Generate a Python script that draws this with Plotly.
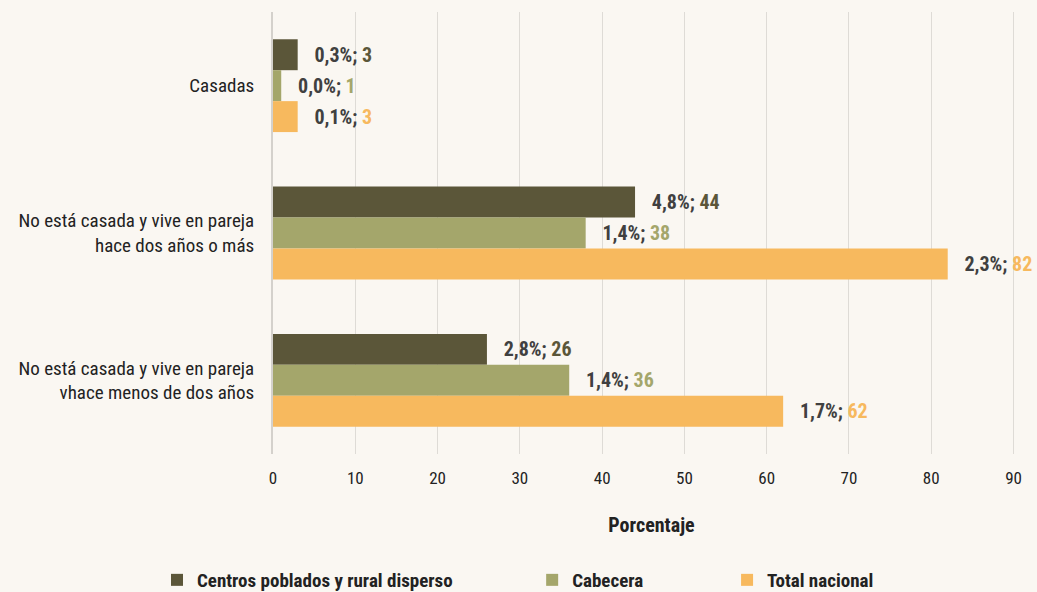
import plotly.graph_objects as go

# categories (top to bottom)
categorias = [
    "Casadas",
    "No está casada y vive en pareja<br>hace dos años o más",
    "No está casada y vive en pareja<br>vhace menos de dos años",
]

series = ["Centros poblados y rural disperso", "Cabecera", "Total nacional"]
colores = ["#5b5639", "#a4a66b", "#f7b95e"]
relleno = [17, 18, 0]  # legend spacing (nbsp count)

# bar values (porcentaje)
valores = {
    "Centros poblados y rural disperso": [3, 44, 26],
    "Cabecera": [1, 38, 36],
    "Total nacional": [3, 82, 62],
}
# percentage shown in the label
pct = {
    "Centros poblados y rural disperso": ["0,3%", "4,8%", "2,8%"],
    "Cabecera": ["0,0%", "1,4%", "1,4%"],
    "Total nacional": ["0,1%", "2,3%", "1,7%"],
}

FONT = "Roboto Condensed, Liberation Sans Narrow, Roboto, sans-serif"
BG = "#faf7f2"
NB = "\u00a0"

fig = go.Figure()
for name, color, pad in zip(series, colores, relleno):
    vals = valores[name]
    labels = [
        f"{NB*3}<b>{p}; <span style='color:{color}'>{v}</span></b>"
        for p, v in zip(pct[name], vals)
    ]
    fig.add_trace(go.Bar(
        y=categorias, x=vals, name=name + NB * pad, orientation="h",
        marker=dict(color=color, line=dict(width=0)),
        text=labels, texttemplate="%{text}", textposition="outside",
        cliponaxis=False,
        textfont=dict(family=FONT, size=20, color="#404040"),
        hoverinfo="skip",
    ))

fig.update_layout(
    width=1037, height=592,
    barmode="group", bargap=0.37, bargroupgap=0,
    paper_bgcolor=BG, plot_bgcolor=BG,
    margin=dict(l=273, r=7, t=12, b=138, autoexpand=False),
    font=dict(family=FONT, size=18, color="#222222"),
    showlegend=True,
    legend=dict(
        orientation="h", xref="container", x=157 / 1037, xanchor="left",
        yref="container", y=12 / 592, yanchor="middle",
        font=dict(family=FONT, size=19, color="#222222", weight="bold"),
        traceorder="normal", itemwidth=30, bgcolor="rgba(0,0,0,0)",
    ),
)
fig.update_xaxes(
    range=[0, 92], dtick=10, showgrid=True, gridcolor="#dedbd6", gridwidth=1,
    zeroline=False, showline=False, ticks="", ticklabelstandoff=12,
    automargin=False,
    tickfont=dict(family=FONT, size=17, color="#222222"),
    title=dict(text="<b>Porcentaje</b>", font=dict(family=FONT, size=20, color="#222222"),
               standoff=30),
)
fig.update_yaxes(
    autorange="reversed", showline=True, linecolor="#d4d1cc", linewidth=2,
    showgrid=False, ticks="", ticklabelstandoff=13, automargin=False,
    tickfont=dict(family=FONT, size=19, color="#222222"),
)

fig.write_html("out.html", config={"displayModeBar": False},
               post_script="document.body.style.margin='0';document.body.style.background='%s';" % BG)
